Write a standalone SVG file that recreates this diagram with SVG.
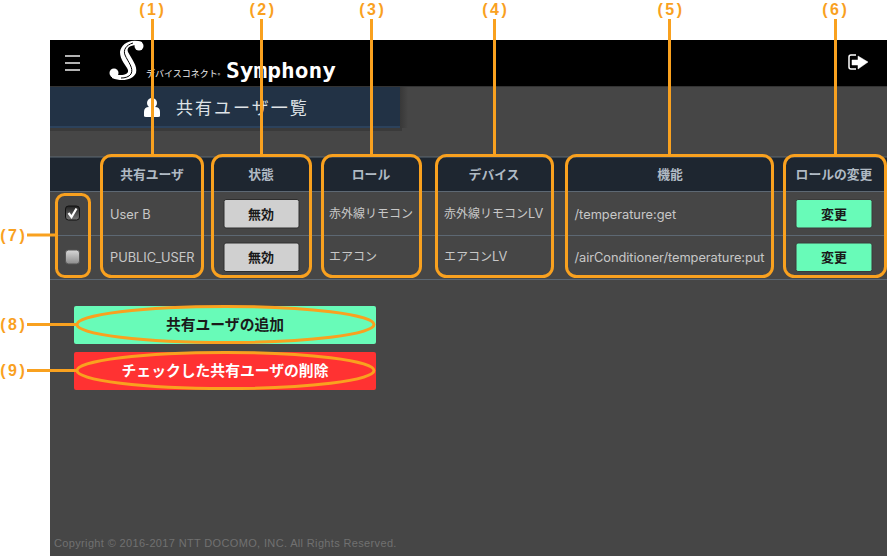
<svg xmlns="http://www.w3.org/2000/svg" width="887" height="556" viewBox="0 0 887 556">
<defs>
<style>
text{font-family:"Inter","Noto Sans CJK JP",sans-serif}
.ja{font-family:"Noto Sans CJK JP","Noto Sans",sans-serif}
.th{font-size:12.800px;font-weight:700;fill:#b0bac4;text-anchor:middle;font-family:"Noto Sans CJK JP",sans-serif}
.td{font-size:12.800px;fill:#c8c8c8}
.jp{font-size:12px;font-family:"Noto Sans CJK JP",sans-serif}
.btn{fill:#d0d0d0;stroke:#2e2e2e;stroke-width:1}
.btnt{font-size:13px;font-weight:700;fill:#1a1a1a;text-anchor:middle;font-family:"Noto Sans CJK JP",sans-serif}
.go{fill:#68fbb8;stroke:#3a3a3a;stroke-width:1}
.call{fill:none;stroke:#f9a11f;stroke-width:3}
.cn{font-size:16px;font-weight:700;fill:#f9a11f;text-anchor:middle;letter-spacing:2.500px;font-family:"Liberation Sans",sans-serif}
.rowl{stroke:#5d6873;stroke-width:1}
</style>
<linearGradient id="chk" x1="0" y1="0" x2="0" y2="1"><stop offset="0" stop-color="#222"/><stop offset="1" stop-color="#777"/></linearGradient>
<linearGradient id="unchk" x1="0" y1="0" x2="0" y2="1"><stop offset="0" stop-color="#d8d8d8"/><stop offset="1" stop-color="#8c8c8c"/></linearGradient>
<linearGradient id="sh" x1="0" y1="0" x2="1" y2="0"><stop offset="0" stop-color="#2e2e2e"/><stop offset="1" stop-color="#2e2e2e" stop-opacity="0"/></linearGradient>
</defs>
<rect width="887" height="556" fill="#fff"/>
<g id="page">
<rect x="50" y="40" width="837" height="516" fill="#464646"/>
<rect x="400" y="86" width="8" height="42" fill="url(#sh)" opacity=".6"/>
<rect x="50" y="128" width="352" height="3" fill="#3a3a3a"/>
</g>
<g id="header">
<rect x="50" y="40" width="837" height="46" fill="#000"/>
<rect x="50" y="86" width="837" height="1" fill="#333"/>
<path d="M65 56H80M65 63H80M65 70H80" stroke="#eee" stroke-width="1.600" fill="none"/>
<g id="logo">
<path d="M142 42C130 38 121 44 120 52C120 60 126 65 128 70C129 75 122 76 112 74L112 78C122 82 133 80 136 73C138 66 131 58 128 52C126 47 132 44 142 46Z" fill="#fff"/>
<circle cx="139" cy="46" r="4.500" fill="#fff"/>
<circle cx="114" cy="73" r="4.500" fill="#fff"/>
<path d="M133 43C126 45 123 50 125 55C128 62 134 68 131 74C129 77 125 78 121 78" stroke="#000" stroke-width="1" fill="none"/>
<text class="ja" x="146" y="77" font-size="9" fill="#eee">デバイスコネクト<tspan font-size="5">®</tspan></text>
<text x="226" y="78" font-size="21" font-weight="700" fill="#fff" textLength="110" lengthAdjust="spacingAndGlyphs" style="font-family:'DejaVu Sans Mono',monospace">Symphony</text>
</g>
<g id="logout">
<path d="M856 55H851Q849 55 849 57V67Q849 69 851 69H856" stroke="#fff" stroke-width="1.500" fill="none"/>
<path d="M852 60H858V56L868 62L858 69V65H852Z" fill="#fff" stroke="#fff" stroke-width=".5" stroke-linejoin="round"/>
</g>
</g>
<g id="title">
<rect x="50" y="87" width="350" height="39" fill="#223245"/>
<rect x="50" y="126" width="350" height="2" fill="#2c425c"/>
<circle cx="152" cy="103" r="5" fill="#fff"/>
<path d="M144 116V112Q144 107 149 107H155Q160 107 160 112V116Q160 117 158 117H146Q144 117 144 116Z" fill="#fff"/>
<text class="ja" x="176" y="114" font-size="17" fill="#dfe3e7" letter-spacing="2">共有ユーザ一覧</text>
</g>
<g id="table">
<rect x="50" y="157" width="837" height="34" fill="#1e2630"/>
<path class="rowl" d="M50 157H887M50 191.500H887M50 235.500H887M50 279.500H887"/>
<g id="col1">
<text class="th" x="152" y="179">共有ユーザ</text>
<text class="td" x="110" y="219">User B</text>
<text class="td" x="110" y="262">PUBLIC_USER</text>
</g>
<g id="col2">
<text class="th" x="261" y="179">状態</text>
<rect class="btn" x="224" y="199.500" width="75" height="28.500" rx="2"/>
<text class="btnt" x="261" y="218.500">無効</text>
<rect class="btn" x="224" y="243" width="75" height="28.500" rx="2"/>
<text class="btnt" x="261" y="262">無効</text>
</g>
<g id="col3">
<text class="th" x="371" y="179">ロール</text>
<text class="td jp" x="329" y="218">赤外線リモコン</text>
<text class="td jp" x="329" y="261">エアコン</text>
</g>
<g id="col4">
<text class="th" x="494" y="179">デバイス</text>
<text class="td" x="444" y="218"><tspan class="jp">赤外線リモコン</tspan>LV</text>
<text class="td" x="444" y="261"><tspan class="jp">エアコン</tspan>LV</text>
</g>
<g id="col5">
<text class="th" x="670" y="179">機能</text>
<text class="td" x="574.500" y="219">/temperature:get</text>
<text class="td" x="574.500" y="262" textLength="190">/airConditioner/temperature:put</text>
</g>
<g id="col6">
<text class="th" x="834" y="179">ロールの変更</text>
<rect class="go" x="796" y="199.500" width="76" height="28.500" rx="2"/>
<text class="btnt" x="834" y="218.500">変更</text>
<rect class="go" x="796" y="243" width="76" height="28.500" rx="2"/>
<text class="btnt" x="834" y="262">変更</text>
</g>
<g id="checks">
<rect x="65.500" y="206" width="14" height="14" rx="3" fill="url(#chk)" stroke="#111"/>
<path d="M68.500 213L71.500 217L76.500 208.500" stroke="#fff" stroke-width="2.200" fill="none"/>
<rect x="65.500" y="250" width="14" height="14" rx="3" fill="url(#unchk)" stroke="#555"/>
</g>
</g>
<g id="add-button">
<rect x="74" y="306" width="302" height="38" rx="2" fill="#68fbb8"/>
<text x="225" y="330" font-size="14.800" font-weight="700" fill="#1a1a1a" text-anchor="middle" class="ja">共有ユーザの追加</text>
</g>
<g id="delete-button">
<rect x="74" y="352" width="302" height="38" rx="2" fill="#ff3232"/>
<text x="225" y="376" font-size="14.800" font-weight="700" fill="#fff" text-anchor="middle" class="ja">チェックした共有ユーザの削除</text>
</g>
<g id="connectors">
<path class="call" d="M152.500 19V155M261.500 19V155M371.500 19V155M494.500 19V155M669.500 19V155M835.500 19V155M27 235H56M27 324.500H77M27 370.500H77"/>
</g>
<g id="callouts">
<rect class="call" x="101.500" y="155.500" width="101" height="121" rx="10"/>
<rect class="call" x="212.500" y="155.500" width="98" height="121" rx="10"/>
<rect class="call" x="322.500" y="155.500" width="98" height="121" rx="10"/>
<rect class="call" x="436.500" y="155.500" width="116" height="121" rx="10"/>
<rect class="call" x="566.500" y="155.500" width="206" height="121" rx="10"/>
<rect class="call" x="784.500" y="155.500" width="101" height="121" rx="10"/>
<rect class="call" x="56.500" y="194.500" width="33" height="82" rx="8"/>
<ellipse class="call" cx="225.500" cy="324.500" rx="148.500" ry="18"/>
<ellipse class="call" cx="225.500" cy="370.500" rx="148.500" ry="18"/>
</g>
<g id="labels">
<text class="cn" x="152.700" y="14.500">(1)</text>
<text class="cn" x="263" y="14.500">(2)</text>
<text class="cn" x="372.700" y="14.500">(3)</text>
<text class="cn" x="495.700" y="14.500">(4)</text>
<text class="cn" x="671" y="14.500">(5)</text>
<text class="cn" x="835.700" y="14.500">(6)</text>
<text class="cn" x="13.700" y="241">(7)</text>
<text class="cn" x="13.700" y="330">(8)</text>
<text class="cn" x="13.700" y="376">(9)</text>
</g>
<text id="copyright" x="54" y="547" font-size="11" fill="#717171" style="font-family:'Liberation Sans',sans-serif" letter-spacing=".35">Copyright © 2016-2017 NTT DOCOMO, INC. All Rights Reserved.</text>
</svg>
